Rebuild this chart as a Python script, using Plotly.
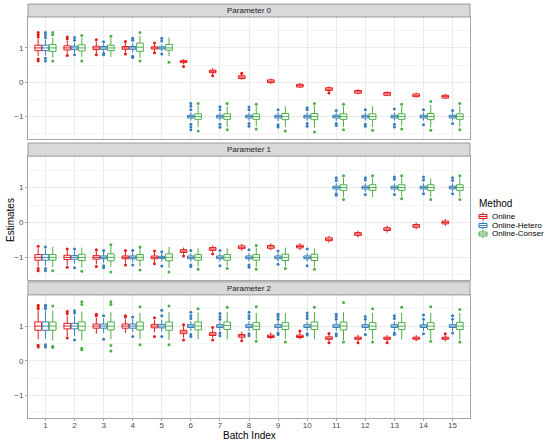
import plotly.graph_objects as go

batches = list(range(1, 16))
methods = ["Online", "Online-Hetero", "Online-Conser"]
colors = {"Online": "#E41A1C", "Online-Hetero": "#377EB8", "Online-Conser": "#4DAF4A"}
offsets = {"Online": -0.25, "Online-Hetero": 0.0, "Online-Conser": 0.25}
panel_titles = ["Parameter 0", "Parameter 1", "Parameter 2"]

# ---- Parameter 0 ----
p0_online_lo = [0.76, 0.82, 0.84, 0.86, 0.90, 0.52, 0.22, 0.07, -0.05, -0.17, -0.28, -0.35, -0.41, -0.45, -0.49]
p0_online_q1 = [0.92, 0.94, 0.95, 0.96, 0.97, 0.57, 0.28, 0.11, -0.01, -0.14, -0.24, -0.32, -0.38, -0.42, -0.46]
p0_online_med = [1.00, 1.00, 1.00, 1.00, 1.00, 0.60, 0.32, 0.15, 0.03, -0.10, -0.20, -0.28, -0.34, -0.38, -0.42]
p0_online_q3 = [1.08, 1.06, 1.05, 1.04, 1.03, 0.63, 0.35, 0.19, 0.07, -0.06, -0.16, -0.24, -0.30, -0.34, -0.38]
p0_online_hi = [1.26, 1.20, 1.18, 1.15, 1.10, 0.67, 0.41, 0.24, 0.11, -0.02, -0.12, -0.20, -0.26, -0.30, -0.34]
p0_online_out = [[1.32, 1.38, 1.45, 0.68, 0.62], [1.26, 1.32, 0.78], [1.24, 0.80], [1.19, 0.82], [1.14, 0.86],
                 [0.46], [0.19], [0.26], [], [], [-0.31], [], [], [], []]

p0_hetero_lo = [0.78, 0.85, 0.88, 0.86, 0.90, -1.12, -1.12, -1.12, -1.13, -1.12, -1.12, -1.12, -1.12, -1.12, -1.12]
p0_hetero_q1 = [0.92, 0.95, 0.96, 0.96, 0.97, -1.04, -1.04, -1.04, -1.04, -1.04, -1.04, -1.04, -1.04, -1.04, -1.04]
p0_hetero_med = [1.00, 1.00, 1.00, 1.00, 1.00, -1.00, -1.00, -1.00, -1.00, -1.00, -1.00, -1.00, -1.00, -1.00, -1.00]
p0_hetero_q3 = [1.08, 1.05, 1.04, 1.04, 1.03, -0.96, -0.96, -0.96, -0.96, -0.96, -0.96, -0.96, -0.96, -0.96, -0.96]
p0_hetero_hi = [1.24, 1.15, 1.12, 1.14, 1.10, -0.88, -0.88, -0.88, -0.88, -0.88, -0.88, -0.88, -0.88, -0.88, -0.88]
p0_hetero_out = [[1.30, 1.38, 1.45, 0.70, 0.62], [1.22, 1.30, 0.80], [1.18, 0.80, 0.84], [1.22, 1.28, 0.76, 0.72],
                 [1.20, 1.28, 0.82], [-0.80, -0.70, -0.62, -1.22, -1.30, -1.38], [-0.80, -0.71, -1.22, -1.31],
                 [-0.80, -0.72, -1.20, -1.28], [-0.80, -1.24, -1.30], [-0.80, -0.74, -1.20, -1.28],
                 [-0.82, -1.20, -1.26], [-0.80, -1.22, -1.28], [-0.78, -1.22, -1.30], [-0.80, -1.24], [-0.82, -1.20]]

p0_conser_lo = [0.72, 0.74, 0.74, 0.70, 0.76, -1.30, -1.30, -1.28, -1.30, -1.32, -1.30, -1.30, -1.28, -1.32, -1.30]
p0_conser_q1 = [0.90, 0.91, 0.92, 0.90, 0.93, -1.08, -1.08, -1.08, -1.09, -1.09, -1.08, -1.08, -1.08, -1.09, -1.08]
p0_conser_med = [1.00, 1.00, 1.00, 1.02, 1.00, -1.00, -1.00, -1.00, -1.00, -1.00, -1.00, -1.00, -1.00, -1.00, -1.00]
p0_conser_q3 = [1.10, 1.09, 1.08, 1.14, 1.10, -0.92, -0.92, -0.92, -0.91, -0.91, -0.92, -0.92, -0.92, -0.91, -0.92]
p0_conser_hi = [1.30, 1.30, 1.28, 1.35, 1.30, -0.68, -0.70, -0.70, -0.70, -0.68, -0.70, -0.70, -0.70, -0.66, -0.70]
p0_conser_out = [[1.38, 1.45, 0.62], [1.36, 0.62], [1.34], [1.45, 0.62], [0.58],
                 [-0.62, -1.42], [-0.62, -1.38], [-0.64, -1.36], [-1.42], [-0.62, -1.45],
                 [-0.64, -1.38], [-1.40], [-0.64, -1.36], [-0.56, -1.40], [-0.62, -1.38]]

# ---- Parameter 1 ----
p1_online_lo = [-1.26, -1.22, -1.20, -1.17, -1.14, -0.92, -0.86, -0.81, -0.80, -0.79, -0.58, -0.43, -0.29, -0.20, -0.10]
p1_online_q1 = [-1.08, -1.06, -1.05, -1.04, -1.04, -0.86, -0.80, -0.75, -0.74, -0.73, -0.52, -0.37, -0.23, -0.14, -0.04]
p1_online_med = [-1.00, -1.00, -1.00, -1.00, -1.00, -0.82, -0.76, -0.71, -0.70, -0.69, -0.48, -0.33, -0.19, -0.10, 0.00]
p1_online_q3 = [-0.92, -0.94, -0.95, -0.96, -0.96, -0.78, -0.72, -0.67, -0.66, -0.65, -0.44, -0.29, -0.15, -0.06, 0.04]
p1_online_hi = [-0.74, -0.80, -0.82, -0.84, -0.86, -0.72, -0.66, -0.61, -0.60, -0.59, -0.38, -0.23, -0.09, 0.00, 0.10]
p1_online_out = [[-0.68, -1.32, -1.38], [-0.76, -1.28], [-0.78, -1.26], [-0.80, -1.22], [-0.82, -1.18],
                 [-0.96], [-0.90], [], [], [], [], [], [], [], []]

p1_hetero_lo = [-1.24, -1.18, -1.16, -1.14, -1.12, -1.12, -1.12, -1.12, -1.12, -1.12, 0.88, 0.88, 0.88, 0.88, 0.88]
p1_hetero_q1 = [-1.08, -1.05, -1.04, -1.04, -1.03, -1.04, -1.04, -1.04, -1.04, -1.04, 0.96, 0.96, 0.96, 0.96, 0.96]
p1_hetero_med = [-1.00, -1.00, -1.00, -1.00, -1.00, -1.00, -1.00, -1.00, -1.00, -1.00, 1.00, 1.00, 1.00, 1.00, 1.00]
p1_hetero_q3 = [-0.92, -0.95, -0.96, -0.96, -0.97, -0.96, -0.96, -0.96, -0.96, -0.96, 1.04, 1.04, 1.04, 1.04, 1.04]
p1_hetero_hi = [-0.76, -0.82, -0.84, -0.86, -0.88, -0.88, -0.88, -0.88, -0.88, -0.88, 1.12, 1.12, 1.12, 1.12, 1.12]
p1_hetero_out = [[-0.70, -1.32, -1.38], [-0.76, -1.30], [-0.80, -1.24, -1.30], [-0.80, -1.22], [-0.84, -1.25],
                 [-0.80, -1.22, -1.26], [-0.80, -1.24], [-0.78, -1.22, -1.28], [-0.82, -1.20], [-0.76, -1.24],
                 [1.20, 1.28, 0.78, 0.82], [1.22, 1.28, 0.80], [1.24, 1.30, 0.80], [1.22, 1.30, 0.82], [1.20, 1.28, 0.82]]

p1_conser_lo = [-1.28, -1.30, -1.28, -1.26, -1.30, -1.28, -1.26, -1.28, -1.26, -1.28, 0.72, 0.72, 0.74, 0.72, 0.74]
p1_conser_q1 = [-1.08, -1.09, -1.10, -1.08, -1.10, -1.08, -1.08, -1.08, -1.09, -1.09, 0.92, 0.92, 0.92, 0.92, 0.92]
p1_conser_med = [-1.00, -1.00, -1.00, -1.00, -1.00, -1.00, -1.00, -1.00, -1.00, -1.00, 1.00, 1.00, 1.00, 1.00, 1.00]
p1_conser_q3 = [-0.92, -0.91, -0.90, -0.92, -0.90, -0.92, -0.92, -0.92, -0.91, -0.91, 1.08, 1.08, 1.08, 1.08, 1.08]
p1_conser_hi = [-0.70, -0.72, -0.68, -0.72, -0.70, -0.74, -0.74, -0.72, -0.72, -0.74, 1.28, 1.28, 1.28, 1.26, 1.28]
p1_conser_out = [[-1.38], [-1.40], [-0.64, -1.42], [-0.70, -1.36], [-1.42],
                 [-1.34], [-1.32], [-0.66, -1.34], [-1.32], [-1.34],
                 [1.34, 0.66], [1.34], [1.34, 0.68], [0.66], [1.34, 0.66]]

# ---- Parameter 2 ----
p2_online_lo = [0.62, 0.70, 0.78, 0.80, 0.82, 0.66, 0.66, 0.62, 0.62, 0.62, 0.56, 0.56, 0.56, 0.56, 0.56]
p2_online_q1 = [0.88, 0.92, 0.94, 0.94, 0.95, 0.78, 0.73, 0.68, 0.67, 0.67, 0.62, 0.62, 0.62, 0.62, 0.62]
p2_online_med = [1.00, 1.00, 1.00, 1.00, 1.00, 0.83, 0.77, 0.72, 0.70, 0.70, 0.65, 0.65, 0.65, 0.65, 0.65]
p2_online_q3 = [1.12, 1.08, 1.06, 1.06, 1.05, 0.88, 0.81, 0.76, 0.74, 0.74, 0.69, 0.68, 0.68, 0.68, 0.68]
p2_online_hi = [1.45, 1.30, 1.24, 1.20, 1.18, 1.00, 0.90, 0.84, 0.82, 0.82, 0.76, 0.75, 0.74, 0.74, 0.74]
p2_online_out = [[1.50, 1.55, 1.60, 0.45, 0.40], [1.36, 1.42, 0.66], [1.30, 1.34], [1.26, 1.30], [1.24, 0.70],
                 [1.04, 0.60], [0.96, 0.60], [0.58], [], [0.86], [0.79, 0.52], [0.52], [0.52], [], [0.78]]

p2_hetero_lo = [0.64, 0.72, 0.80, 0.82, 0.84, 0.86, 0.86, 0.86, 0.86, 0.86, 0.86, 0.86, 0.86, 0.86, 0.86]
p2_hetero_q1 = [0.88, 0.92, 0.94, 0.94, 0.95, 0.96, 0.96, 0.96, 0.96, 0.96, 0.96, 0.96, 0.96, 0.96, 0.96]
p2_hetero_med = [1.00, 1.00, 1.00, 1.00, 1.00, 1.00, 1.00, 1.00, 1.00, 1.00, 1.00, 1.00, 1.00, 1.00, 1.00]
p2_hetero_q3 = [1.12, 1.08, 1.06, 1.06, 1.05, 1.04, 1.04, 1.04, 1.04, 1.04, 1.04, 1.04, 1.04, 1.04, 1.04]
p2_hetero_hi = [1.44, 1.30, 1.22, 1.20, 1.18, 1.14, 1.14, 1.14, 1.14, 1.14, 1.14, 1.14, 1.14, 1.14, 1.14]
p2_hetero_out = [[1.50, 1.56, 1.60, 0.46, 0.40], [1.38, 1.44, 0.60], [1.30, 0.62], [1.26, 0.70], [1.30, 1.46, 0.70],
                 [1.22, 1.30, 1.40, 0.76, 0.70], [1.20, 1.28, 1.36, 0.80, 0.72], [1.22, 1.30, 1.40, 0.78, 0.72],
                 [1.20, 1.28, 1.34, 0.80, 0.76], [1.22, 1.30, 1.38, 0.78, 0.74], [1.20, 1.28, 1.34, 0.78, 0.72],
                 [1.20, 1.28, 0.76], [1.22, 1.30, 0.80, 0.76], [1.20, 1.32, 0.78], [1.20, 1.30, 0.80]]

p2_conser_lo = [0.58, 0.58, 0.62, 0.62, 0.60, 0.62, 0.62, 0.62, 0.64, 0.62, 0.60, 0.62, 0.62, 0.62, 0.62]
p2_conser_q1 = [0.88, 0.88, 0.89, 0.89, 0.88, 0.89, 0.90, 0.90, 0.90, 0.90, 0.89, 0.90, 0.90, 0.90, 0.90]
p2_conser_med = [1.00, 1.00, 1.00, 1.00, 1.00, 1.00, 1.02, 1.00, 1.00, 1.00, 1.00, 1.00, 1.00, 1.00, 1.00]
p2_conser_q3 = [1.12, 1.12, 1.12, 1.12, 1.12, 1.12, 1.12, 1.10, 1.10, 1.12, 1.12, 1.10, 1.10, 1.10, 1.11]
p2_conser_hi = [1.45, 1.42, 1.40, 1.38, 1.40, 1.40, 1.40, 1.38, 1.38, 1.40, 1.40, 1.38, 1.38, 1.38, 1.38]
p2_conser_out = [[1.58, 0.42, 0.38], [1.62, 1.70, 0.36, 0.32], [1.62, 1.70, 0.44, 0.28], [1.56, 0.46], [1.58, 0.46],
                 [1.50], [1.54], [1.56, 0.56], [0.54], [1.54], [1.68, 0.54], [1.50, 0.54], [1.54], [1.56, 0.56], [1.48, 0.54]]

stats = [
    {"Online": (p0_online_lo, p0_online_q1, p0_online_med, p0_online_q3, p0_online_hi, p0_online_out),
     "Online-Hetero": (p0_hetero_lo, p0_hetero_q1, p0_hetero_med, p0_hetero_q3, p0_hetero_hi, p0_hetero_out),
     "Online-Conser": (p0_conser_lo, p0_conser_q1, p0_conser_med, p0_conser_q3, p0_conser_hi, p0_conser_out)},
    {"Online": (p1_online_lo, p1_online_q1, p1_online_med, p1_online_q3, p1_online_hi, p1_online_out),
     "Online-Hetero": (p1_hetero_lo, p1_hetero_q1, p1_hetero_med, p1_hetero_q3, p1_hetero_hi, p1_hetero_out),
     "Online-Conser": (p1_conser_lo, p1_conser_q1, p1_conser_med, p1_conser_q3, p1_conser_hi, p1_conser_out)},
    {"Online": (p2_online_lo, p2_online_q1, p2_online_med, p2_online_q3, p2_online_hi, p2_online_out),
     "Online-Hetero": (p2_hetero_lo, p2_hetero_q1, p2_hetero_med, p2_hetero_q3, p2_hetero_hi, p2_hetero_out),
     "Online-Conser": (p2_conser_lo, p2_conser_q1, p2_conser_med, p2_conser_q3, p2_conser_hi, p2_conser_out)},
]

FONT = "Liberation Sans, Arial, sans-serif"
W, H = 550, 442
ML, MR, MT, MB = 28, 80, 17, 24
domains = [[0.696, 1.0], [0.344, 0.653], [0.0, 0.307]]
strip_h = 0.106

fig = go.Figure()

for p in range(3):
    ax = "" if p == 0 else str(p + 1)
    for m in methods:
        lo, q1, med, q3, hi, out = stats[p][m]
        xs = [b + offsets[m] for b in batches]
        fig.add_trace(go.Box(
            x=xs, q1=q1, median=med, q3=q3, lowerfence=lo, upperfence=hi,
            width=0.23, whiskerwidth=0, boxpoints=False,
            line=dict(color=colors[m], width=1), fillcolor="white",
            name=m, showlegend=False,
            xaxis="x" + ax, yaxis="y" + ax, hoverinfo="skip"))
        ox, oy = [], []
        for i, b in enumerate(batches):
            for v in out[i]:
                ox.append(b + offsets[m])
                oy.append(v)
        fig.add_trace(go.Scatter(
            x=ox, y=oy, mode="markers", marker=dict(color=colors[m], size=3),
            showlegend=False, xaxis="x" + ax, yaxis="y" + ax, hoverinfo="skip"))

    # facet strip
    fig.add_shape(type="rect", xref="x" + ax + " domain", yref="y" + ax + " domain",
                  x0=0, x1=1, y0=1.0, y1=1.0 + strip_h,
                  fillcolor="#D9D9D9", line=dict(color="#9A9A9A", width=1), layer="above")
    fig.add_annotation(text=panel_titles[p], xref="x" + ax + " domain", yref="y" + ax + " domain",
                       x=0.5, y=1.0 + strip_h / 2, showarrow=False, yanchor="middle",
                       font=dict(family=FONT, size=8, color="#1A1A1A"))

    xaxis = dict(domain=[0, 1], range=[0.4, 15.6], tickmode="array", tickvals=batches,
                 ticktext=[str(b) for b in batches], showgrid=True, gridcolor="#EBEBEB", gridwidth=1,
                 zeroline=False, showline=True, mirror=True, linecolor="#A6A6A6", linewidth=1,
                 ticks="outside" if p == 2 else "", ticklen=2, tickcolor="#A6A6A6",
                 ticklabelstandoff=-3,
                 showticklabels=(p == 2), tickfont=dict(family=FONT, size=8, color="#4D4D4D"),
                 anchor="y" + ax, automargin=False)
    if p > 0:
        xaxis["matches"] = "x"
    yaxis = dict(domain=domains[p], range=[-1.65, 1.9], tickvals=[-1, 0, 1], ticktext=["\u22121", "0", "1"],
                 showgrid=True, gridcolor="#EBEBEB", gridwidth=1,
                 minor=dict(tickvals=[-1.5, -0.5, 0.5, 1.5], showgrid=True, gridcolor="#F5F5F5"),
                 zeroline=False, showline=True, mirror=True, linecolor="#A6A6A6", linewidth=1,
                 ticks="outside", ticklen=2, tickcolor="#A6A6A6",
                 tickfont=dict(family=FONT, size=8, color="#4D4D4D"), anchor="x" + ax, automargin=False)
    fig.update_layout({"xaxis" + ax: xaxis, "yaxis" + ax: yaxis})

pw, ph = W - ML - MR, H - MT - MB


# window pixel -> paper coordinates
def px_x(v):
    return (v - ML) / pw


def px_y(v):
    return (H - MB - v) / ph


# axis titles
fig.add_annotation(text="Estimates", xref="paper", yref="paper", x=px_x(10), y=px_y(220),
                   xanchor="center", yanchor="middle",
                   textangle=-90, showarrow=False, font=dict(family=FONT, size=10, color="black"))
fig.add_annotation(text="Batch Index", xref="paper", yref="paper", x=0.5, y=px_y(435.5),
                   xanchor="center", yanchor="middle", showarrow=False,
                   font=dict(family=FONT, size=10, color="black"))

# hand-drawn legend in ggplot style
fig.add_annotation(text="Method", xref="paper", yref="paper", x=px_x(477), y=px_y(203),
                   xanchor="left", yanchor="middle", showarrow=False,
                   font=dict(family=FONT, size=10, color="black"))
legend_rows = [216.5, 225.5, 234]
for m, ry in zip(methods, legend_rows):
    c = colors[m]
    fig.add_shape(type="line", xref="paper", yref="paper", x0=px_x(483), x1=px_x(483),
                  y0=px_y(ry - 4), y1=px_y(ry + 4), line=dict(color=c, width=1))
    fig.add_shape(type="rect", xref="paper", yref="paper", x0=px_x(479), x1=px_x(487),
                  y0=px_y(ry - 2), y1=px_y(ry + 2), fillcolor="white", line=dict(color=c, width=1))
    fig.add_shape(type="line", xref="paper", yref="paper", x0=px_x(479), x1=px_x(487),
                  y0=px_y(ry), y1=px_y(ry), line=dict(color=c, width=1))
    fig.add_annotation(text=m, xref="paper", yref="paper", x=px_x(490), y=px_y(ry),
                       xanchor="left", yanchor="middle", showarrow=False,
                       font=dict(family=FONT, size=8, color="black"))

fig.update_layout(
    width=W, height=H,
    margin=dict(l=ML, r=MR, t=MT, b=MB),
    paper_bgcolor="white", plot_bgcolor="white",
    boxmode="overlay", showlegend=False, hovermode=False,
    font=dict(family=FONT, size=8, color="#1A1A1A"),
)

# drop the browser's default body margin so the figure sits at the window corner
fig.write_html("out.html", config={"displayModeBar": False},
               post_script="document.body.style.margin = '0px';")
